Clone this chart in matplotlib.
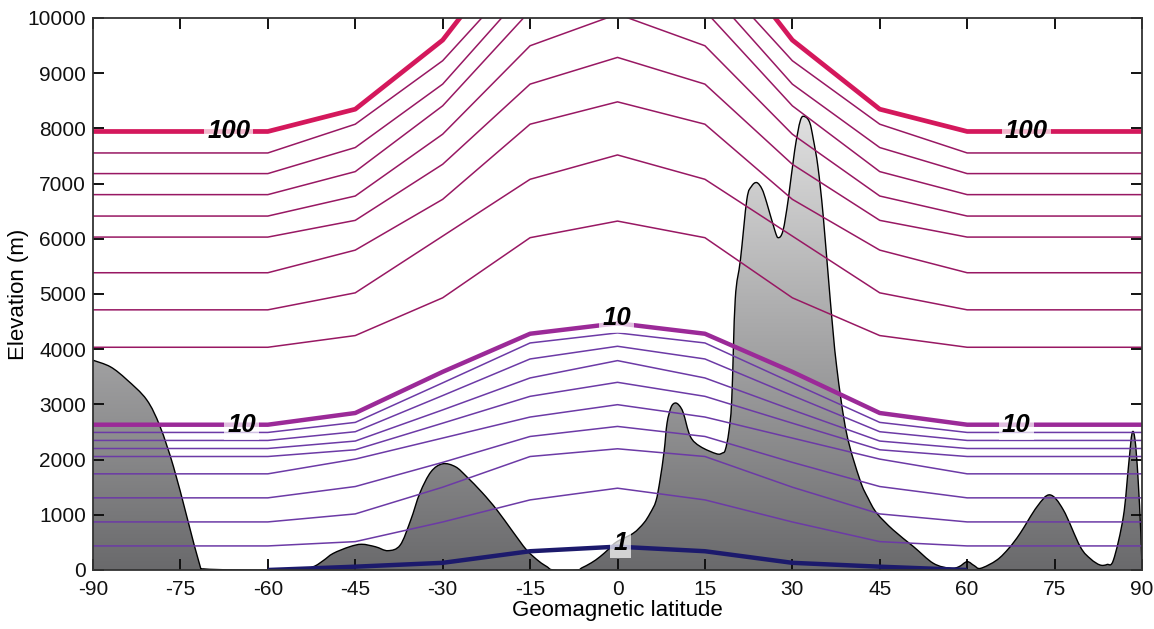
import numpy as np
import matplotlib.pyplot as plt
from matplotlib.colors import LinearSegmentedColormap
from matplotlib.path import Path
from matplotlib.patches import PathPatch

plt.rcParams['font.family'] = ['Liberation Sans', 'DejaVu Sans']
plt.rcParams['axes.unicode_minus'] = False

# latitude nodes of the contour lines (southern half, mirrored to the north)
nodes = [-90, -60, -45, -30, -15, 0]

# contour levels and elevations (m) at each node
upper_levels = [20, 30, 40, 50, 60, 70, 80, 90, 100]
upper_elev = [
    [4035, 4035, 4247, 4931, 6020, 6321],
    [4713, 4713, 5021, 6049, 7078, 7519],
    [5385, 5385, 5795, 6715, 8076, 8481],
    [6031, 6031, 6334, 7350, 8802, 9286],
    [6412, 6412, 6775, 7895, 9497, 10070],
    [6800, 6800, 7217, 8409, 10130, 10700],
    [7181, 7181, 7653, 8802, 10580, 11200],
    [7555, 7555, 8076, 9226, 10960, 11700],
    [7944, 7944, 8348, 9600, 11640, 12300],
]
lower_levels = [2, 3, 4, 5, 6, 7, 8, 9, 10]
lower_elev = [
    [436, 436, 514, 870, 1270, 1482],
    [871, 871, 1016, 1500, 2056, 2196],
    [1307, 1307, 1512, 1950, 2419, 2601],
    [1742, 1742, 2009, 2390, 2771, 2995],
    [2056, 2056, 2178, 2660, 3146, 3400],
    [2201, 2201, 2336, 2900, 3479, 3793],
    [2347, 2347, 2505, 3160, 3823, 4053],
    [2492, 2492, 2674, 3390, 4113, 4295],
    [2632, 2632, 2844, 3590, 4280, 4470],
]
# level 1 only spans -60..60
one_nodes = [-60, -45, -30, -15, 0]
one_elev = [0, 60, 130, 340, 423]

# terrain profile
terrain_lat = [-90, -87, -84.2, -80.8, -78.5, -76.2, -73.9, -71.6, -71, -65, -55,
               -52.2, -50.5, -48.8, -46, -43.9, -41.5, -39.4, -37.3, -35.5, -33.9, -32, -30,
               -27.8, -25.9, -23.2, -20.7, -18, -15.6, -13.5, -12.1, -11, -7, -6.1,
               -4.5, -3.0, -1.5, -0.1, 2.7, 4.5, 5.6, 6.6, 7.3, 8.0, 8.5, 9.2, 9.9,
               10.6, 11.3, 12.5, 14.2, 17.0, 18.0, 18.5, 19.1, 19.6, 20.2, 21.1, 22.2,
               23.0, 23.9, 24.8, 25.6, 27.0, 27.6, 28.4, 29.3, 30.4, 31.4, 32.2, 33.0,
               33.6, 34.4, 35.3, 36.5, 37.6, 39.3, 41.6, 43.0, 44.5, 47.3, 50.8, 54.2,
               57.1, 58.6, 60.0, 61.2, 62.3, 65.1, 67.2, 69.1, 72.0, 74.2, 76.5, 79.4,
               81.2, 82.8, 84.0, 85.1, 86.8, 87.7, 88.3, 88.8, 89.3, 89.8, 90]
terrain_elev = [3800, 3680, 3448, 3085, 2600, 1875, 967, 60, 20, 0, 0,
                60, 170, 300, 420, 466, 420, 350, 450, 900, 1397, 1780, 1924,
                1870, 1693, 1400, 1089, 700, 363, 160, 60, 0, 0, 40,
                130, 241, 380, 514, 666, 850, 1029, 1250, 1633, 2150, 2662, 2950, 3025,
                2980, 2843, 2419, 2238, 2105, 2120, 2178, 2500, 3085, 4900, 5626, 6715,
                6950, 7018, 6900, 6655, 6150, 6020, 6150, 6715, 7600, 8150, 8210, 8100,
                7804, 7300, 6412, 4900, 3690, 2481, 1633, 1300, 1029, 726, 423, 121,
                30, 60, 151, 80, 30, 181, 400, 666, 1149, 1361, 1089, 423,
                200, 91, 100, 181, 967, 1900, 2481, 2359, 1700, 666, 0]

x_ticks = [-90, -75, -60, -45, -30, -15, 0, 15, 30, 45, 60, 75, 90]
y_ticks = list(range(0, 10001, 1000))


def mirror(lat, vals):
    lat = np.asarray(lat, float)
    vals = np.asarray(vals, float)
    return np.concatenate([lat, -lat[-2::-1]]), np.concatenate([vals, vals[-2::-1]])


def smooth_path(xs, ys, k=6.0):
    # cubic bezier through the read points (Catmull-Rom style control handles)
    p = np.column_stack([xs, ys])
    ext = np.vstack([p[0], p, p[-1]])
    verts = [p[0]]
    codes = [Path.MOVETO]
    for i in range(len(p) - 1):
        a, b, c, d = ext[i], ext[i + 1], ext[i + 2], ext[i + 3]
        verts += [b + (c - a) / k, c - (d - b) / k, c]
        codes += [Path.CURVE4] * 3
    return verts, codes


fig = plt.figure(figsize=(11.54, 6.29), dpi=100)
ax = fig.add_axes([0.0806, 0.0938, 0.9090, 0.8776])

# terrain with a vertical grey gradient
verts, codes = smooth_path(terrain_lat, terrain_elev)
outline = Path(verts, codes)
fill_path = Path(verts + [(90, -600), (-90, -600), verts[0]],
                 codes + [Path.LINETO, Path.LINETO, Path.CLOSEPOLY])
clip = PathPatch(fill_path, facecolor='none', edgecolor='none', transform=ax.transData)
ax.add_patch(clip)
grey = LinearSegmentedColormap.from_list('g', ['#6a6a6c', '#e8e8e8'])
grad = np.linspace(0, 1, 256).reshape(-1, 1)
im = ax.imshow(grad, cmap=grey, origin='lower', extent=[-90, 90, 0, 8800],
               aspect='auto', zorder=1, vmin=0, vmax=1)
im.set_clip_path(clip)
ax.add_patch(PathPatch(outline, facecolor='none', edgecolor='black', lw=1.0, zorder=2))

# contour lines
for lev, vals in zip(lower_levels, lower_elev):
    xs, ys = mirror(nodes, vals)
    if lev == 10:
        ax.plot(xs, ys, color='#9b2a98', lw=3.2, zorder=3, solid_capstyle='butt')
    else:
        ax.plot(xs, ys, color='#6c3aa6', lw=1.1, zorder=3)
for lev, vals in zip(upper_levels, upper_elev):
    xs, ys = mirror(nodes, vals)
    if lev == 100:
        ax.plot(xs, ys, color='#d4185c', lw=3.4, zorder=3, solid_capstyle='butt')
    else:
        ax.plot(xs, ys, color='#981863', lw=1.1, zorder=3)
xs, ys = mirror(one_nodes, one_elev)
ax.plot(xs, ys, color='#1c1a6c', lw=3.2, zorder=3, solid_capstyle='butt')

# line labels
lab_kw = dict(fontsize=18.5, fontweight='bold', fontstyle='italic', ha='center', va='center',
              zorder=5, bbox=dict(boxstyle='square,pad=0.12', fc='white', ec='none', alpha=0.7))
ax.text(-66.7, upper_elev[-1][0], '100', **lab_kw)
ax.text(70.2, upper_elev[-1][0], '100', **lab_kw)
ax.text(-64.5, lower_elev[-1][0], '10', **lab_kw)
ax.text(68.4, lower_elev[-1][0], '10', **lab_kw)
ax.text(-0.1, lower_elev[-1][-1] + 100, '10', **lab_kw)
ax.text(0.5, one_elev[-1] + 60, '1', **lab_kw)

ax.set_xlim(-90, 90)
ax.set_ylim(0, 10000)
ax.set_xticks(x_ticks)
ax.set_yticks(y_ticks)
ax.tick_params(direction='in', length=8, width=1.4, top=True, right=True,
               labelsize=15, colors='#111111', pad=5)
ax.tick_params(axis='x', pad=7)
for s in ax.spines.values():
    s.set_linewidth(1.3)
    s.set_color('#333333')
    s.set_zorder(6)
ax.set_xlabel('Geomagnetic latitude', fontsize=16, labelpad=1)
ax.set_ylabel('Elevation (m)', fontsize=16)
ax.yaxis.set_label_coords(-0.061, 0.5)

fig.savefig('out.png', dpi=100)
